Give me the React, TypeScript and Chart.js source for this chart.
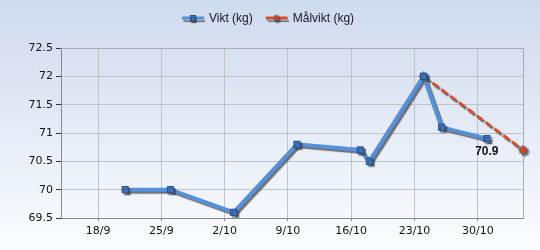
import { useEffect, useRef } from 'react';
import { Chart, registerables } from 'chart.js';

Chart.register(...registerables);

const YEAR = 2017;
const viktDates = ['21/9', '26/9', '3/10', '10/10', '17/10', '18/10', '24/10', '26/10', '31/10'];
const viktValues = [70.0, 70.0, 69.6, 70.8, 70.7, 70.5, 72.0, 71.1, 70.9];
const malDates = ['24/10', '4/11'];
const malValues = [72.0, 70.7];
const xTickLabels = ['18/9', '25/9', '2/10', '9/10', '16/10', '23/10', '30/10'];
const xRange = ['14/9', '4/11'];
const yTicks = [69.5, 70, 70.5, 71, 71.5, 72, 72.5];
const seriesNames = ['Vikt (kg)', 'Målvikt (kg)'];

function toDay(s: string): number {
  const [d, m] = s.split('/').map(Number);
  return Date.UTC(YEAR, m - 1, d) / 86400000;
}
function fmtDay(v: number): string {
  const dt = new Date(Math.round(v) * 86400000);
  return `${dt.getUTCDate()}/${dt.getUTCMonth() + 1}`;
}

const BLUE = '#5590dd';
const RED = '#d9502f';
const TICK_FONT = { family: '"DejaVu Sans", Verdana, sans-serif', size: 11 };

function makeStar(): HTMLCanvasElement {
  const c = document.createElement('canvas');
  c.width = 11;
  c.height = 11;
  const g = c.getContext('2d')!;
  const cx = 5.5, cy = 5.5;
  g.beginPath();
  for (let i = 0; i < 16; i++) {
    const r = i % 2 === 0 ? 5.4 : 3.3;
    const a = (i * Math.PI) / 8 - Math.PI / 2;
    const px = cx + r * Math.cos(a);
    const py = cy + r * Math.sin(a);
    if (i === 0) g.moveTo(px, py);
    else g.lineTo(px, py);
  }
  g.closePath();
  g.fillStyle = '#5e5458';
  g.fill();
  g.beginPath();
  g.arc(cx, cy, 3, 0, Math.PI * 2);
  g.fillStyle = '#d8402a';
  g.fill();
  return c;
}

export default function App() {
  const ref = useRef<HTMLCanvasElement | null>(null);

  useEffect(() => {
    const canvas = ref.current;
    if (!canvas) return;
    const star = makeStar();

    const bgPlugin = {
      id: 'bg',
      beforeDraw(chart: any) {
        const { ctx, width, height } = chart;
        const g = ctx.createLinearGradient(0, 0, 0, height);
        g.addColorStop(0, '#cedaee');
        g.addColorStop(1, '#fbfcfe');
        ctx.save();
        ctx.fillStyle = g;
        ctx.fillRect(0, 0, width, height);
        ctx.restore();
      },
      beforeDatasetsDraw(chart: any) {
        const { ctx, chartArea } = chart;
        ctx.save();
        ctx.strokeStyle = '#a8acb4';
        ctx.lineWidth = 1;
        ctx.beginPath();
        ctx.moveTo(chartArea.left, chartArea.top + 0.5);
        ctx.lineTo(chartArea.right + 0.5, chartArea.top + 0.5);
        ctx.lineTo(chartArea.right + 0.5, chartArea.bottom);
        ctx.stroke();
        ctx.restore();
      },
    };

    const shadowPlugin = {
      id: 'shadow',
      beforeDatasetDraw(chart: any) {
        const ctx = chart.ctx;
        ctx.save();
        ctx.shadowColor = 'rgba(70,70,70,0.75)';
        ctx.shadowOffsetX = 2;
        ctx.shadowOffsetY = 2;
        ctx.shadowBlur = 1;
      },
      afterDatasetDraw(chart: any) {
        chart.ctx.restore();
      },
    };

    const labelPlugin = {
      id: 'lastLabel',
      afterDatasetsDraw(chart: any) {
        const meta = chart.getDatasetMeta(0);
        const idx = viktValues.length - 1;
        const pt = meta.data[idx];
        if (!pt) return;
        const ctx = chart.ctx;
        ctx.save();
        ctx.font = 'bold 12px "Liberation Sans", Arial, sans-serif';
        ctx.fillStyle = '#111';
        ctx.textAlign = 'center';
        ctx.textBaseline = 'middle';
        ctx.fillText(viktValues[idx].toFixed(1), pt.x, pt.y + 13);
        ctx.restore();
      },
    };

    const legendPlugin = {
      id: 'customLegend',
      afterDraw(chart: any) {
        const ctx = chart.ctx;
        ctx.save();
        ctx.font = '12px "Liberation Sans", Arial, sans-serif';
        const iconW = 22, gapText = 5, gapItem = 13;
        const widths = seriesNames.map((n) => ctx.measureText(n).width);
        const total = widths.reduce((a, w) => a + iconW + gapText + w, 0) + gapItem * (seriesNames.length - 1);
        let x = chart.width / 2 - total / 2 - 2;
        const y = 18;
        seriesNames.forEach((name, i) => {
          ctx.save();
          ctx.shadowColor = 'rgba(70,70,70,0.75)';
          ctx.shadowOffsetX = 1;
          ctx.shadowOffsetY = 2;
          ctx.shadowBlur = 1;
          ctx.strokeStyle = i === 0 ? BLUE : RED;
          ctx.lineWidth = 3;
          ctx.beginPath();
          ctx.moveTo(x, y);
          ctx.lineTo(x + iconW, y);
          ctx.stroke();
          if (i === 0) {
            ctx.fillStyle = '#3a7bd5';
            ctx.strokeStyle = '#1f4c8f';
            ctx.lineWidth = 1;
            ctx.fillRect(x + iconW / 2 - 2.5, y - 2.5, 5, 5);
            ctx.strokeRect(x + iconW / 2 - 2.5, y - 2.5, 5, 5);
          } else {
            ctx.drawImage(star, x + iconW / 2 - 4, y - 4, 8, 8);
          }
          ctx.restore();
          ctx.fillStyle = '#151528';
          ctx.textAlign = 'left';
          ctx.textBaseline = 'middle';
          ctx.fillText(name, x + iconW + gapText, y + 0.5);
          x += iconW + gapText + widths[i] + gapItem;
        });
        ctx.restore();
      },
    };

    const chart = new Chart(canvas, {
      type: 'line',
      data: {
        datasets: [
          {
            label: seriesNames[0],
            data: viktDates.map((d, i) => ({ x: toDay(d), y: viktValues[i] })),
            borderColor: BLUE,
            backgroundColor: '#3a7bd5',
            borderWidth: 4,
            tension: 0,
            pointStyle: 'rect',
            pointRadius: 4.4,
            pointBorderColor: '#1f4c8f',
            pointBackgroundColor: '#3a7bd5',
            pointBorderWidth: 1,
            clip: false as any,
          },
          {
            label: seriesNames[1],
            data: malDates.map((d, i) => ({ x: toDay(d), y: malValues[i] })),
            borderColor: RED,
            backgroundColor: RED,
            borderWidth: 3,
            borderDash: [7, 4],
            tension: 0,
            pointStyle: star as any,
            pointRadius: 5,
            clip: false as any,
          },
        ],
      },
      options: {
        animation: false,
        responsive: false,
        devicePixelRatio: 1,
        layout: { padding: { top: 48, right: 17, left: 0, bottom: 0 } },
        plugins: { legend: { display: false }, tooltip: { enabled: false } },
        scales: {
          x: {
            type: 'linear',
            min: toDay(xRange[0]) - 0.1,
            max: toDay(xRange[1]),
            afterBuildTicks(scale: any) {
              scale.ticks = xTickLabels.map((t) => ({ value: toDay(t) }));
            },
            afterFit(scale: any) {
              scale.height = 32;
            },
            ticks: {
              callback: (v: any) => fmtDay(Number(v)),
              font: TICK_FONT,
              color: '#111',
              padding: 4,
              maxRotation: 0,
              autoSkip: false,
            },
            grid: { color: '#bfc2c9', tickColor: '#8a8a8a', tickLength: 3 },
            border: { color: '#8a8a8a' },
          },
          y: {
            type: 'linear',
            min: yTicks[0],
            max: yTicks[yTicks.length - 1],
            afterBuildTicks(scale: any) {
              scale.ticks = yTicks.map((v) => ({ value: v }));
            },
            afterFit(scale: any) {
              scale.width = 61;
            },
            ticks: {
              callback: (v: any) => String(v),
              font: TICK_FONT,
              color: '#111',
              padding: 3,
              autoSkip: false,
            },
            grid: { color: '#bfc2c9', tickColor: '#333', tickLength: 5 },
            border: { color: '#8a8a8a' },
          },
        },
      },
      plugins: [bgPlugin, shadowPlugin, labelPlugin, legendPlugin],
    });

    return () => chart.destroy();
  }, []);

  return (
    <div style={{ position: 'fixed', left: 0, top: 0, width: 540, height: 250 }}>
      <canvas ref={ref} width={540} height={250} style={{ display: 'block' }} />
    </div>
  );
}
